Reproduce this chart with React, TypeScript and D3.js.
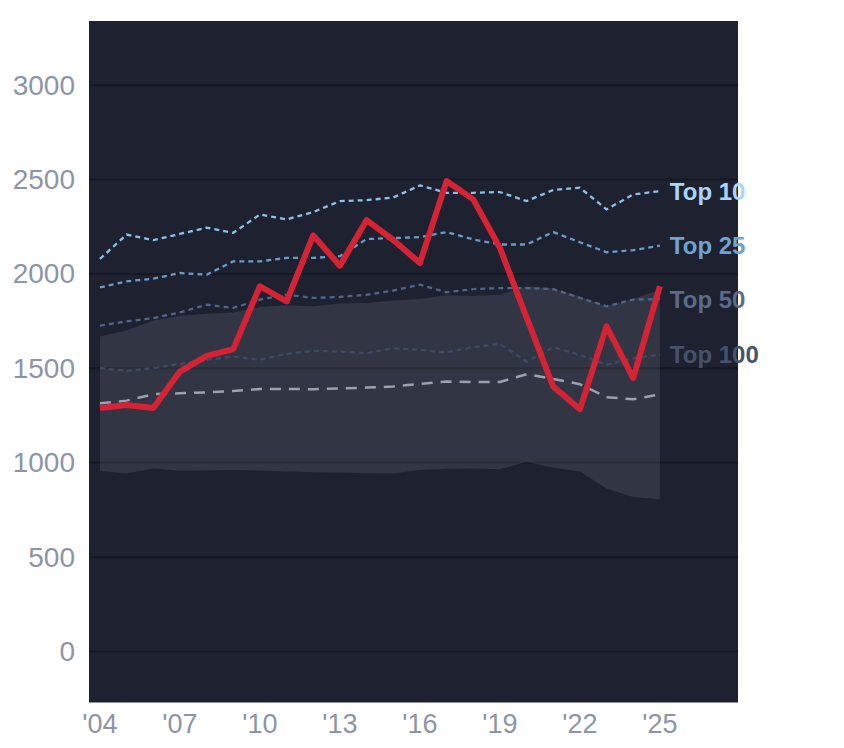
import React from 'react';
import * as d3 from 'd3';

// years 2004..2025
const years = d3.range(2004, 2026);

const mainSeries = [1290, 1306, 1290, 1483, 1566, 1602, 1935, 1855, 2204, 2044, 2285, 2180, 2058, 2492, 2395, 2138, 1770, 1404, 1283, 1722, 1448, 1935];
const top10 = [2080, 2209, 2179, 2212, 2245, 2218, 2315, 2289, 2328, 2386, 2391, 2405, 2469, 2430, 2430, 2434, 2386, 2445, 2457, 2342, 2421, 2439];
const top25 = [1929, 1961, 1975, 2005, 1996, 2067, 2067, 2085, 2085, 2094, 2185, 2190, 2195, 2222, 2183, 2156, 2156, 2222, 2168, 2115, 2126, 2150];
const top50 = [1726, 1749, 1766, 1796, 1837, 1820, 1864, 1890, 1873, 1878, 1890, 1912, 1943, 1903, 1920, 1925, 1925, 1920, 1873, 1829, 1864, 1867];
const top100 = [1501, 1487, 1501, 1524, 1545, 1563, 1545, 1577, 1593, 1589, 1580, 1607, 1598, 1584, 1612, 1630, 1536, 1612, 1572, 1519, 1554, 1572];
const median = [1315, 1329, 1363, 1368, 1373, 1380, 1391, 1391, 1389, 1394, 1398, 1404, 1418, 1430, 1428, 1428, 1469, 1444, 1416, 1347, 1336, 1362];
const bandHigh = [1669, 1701, 1754, 1779, 1789, 1796, 1825, 1834, 1829, 1843, 1846, 1860, 1867, 1887, 1885, 1890, 1935, 1925, 1881, 1829, 1867, 1917];
const bandLow = [956, 943, 970, 957, 959, 961, 959, 954, 950, 948, 945, 943, 961, 968, 970, 966, 1004, 973, 954, 863, 819, 807];

const yTicks = [0, 500, 1000, 1500, 2000, 2500, 3000];
const xTicks = [2004, 2007, 2010, 2013, 2016, 2019, 2022, 2025];

const tiers = [
  { name: 'Top 10', values: top10, line: '#8cc2ea', label: '#a8d6fc' },
  { name: 'Top 25', values: top25, line: '#6a9bc8', label: '#70a3d2' },
  { name: 'Top 50', values: top50, line: '#50648a', label: '#5b6b8a' },
  { name: 'Top 100', values: top100, line: '#3d4a66', label: '#46526d' },
];

const W = 844;
const H = 748;
const plot = { left: 89, right: 738, top: 21, bottom: 702.5 };

const App = () => {
  const x = d3.scaleLinear().domain([2003.59, 2027.93]).range([plot.left, plot.right]);
  const y = d3.scaleLinear().domain([-270, 3340]).range([plot.bottom, plot.top]);

  const line = d3.line<number>()
    .x((_, i) => x(years[i]))
    .y(d => y(d));

  const band = d3.area<number>()
    .x((_, i) => x(years[i]))
    .y0((_, i) => y(bandLow[i]))
    .y1(d => y(d));

  const font = '"Liberation Sans", Arial, sans-serif';
  const last = years.length - 1;

  return (
    <svg width={W} height={H} style={{ position: 'absolute', left: 0, top: 0 }}>
      <rect x={0} y={0} width={W} height={H} fill="#ffffff" />
      <rect x={plot.left} y={plot.top} width={plot.right - plot.left} height={plot.bottom - plot.top} fill="#1d2130" />

      {yTicks.map(t => (
        <line key={t} x1={plot.left} x2={plot.right} y1={y(t)} y2={y(t)} stroke="#161923" strokeWidth={2} />
      ))}

      <path d={band(bandHigh) ?? ''} fill="#ffffff" fillOpacity={0.095} />

      <path d={line(median) ?? ''} fill="none" stroke="#9ba1ad" strokeWidth={2.5} strokeDasharray="11,8" />

      {tiers.slice().reverse().map(t => (
        <path key={t.name} d={line(t.values) ?? ''} fill="none" stroke={t.line} strokeWidth={2.3} strokeDasharray="5,4" />
      ))}

      <path d={line(mainSeries) ?? ''} fill="none" stroke="#d32335" strokeWidth={6} strokeLinejoin="round" />

      {tiers.map(t => (
        <text key={t.name} x={x(years[last]) + 10} y={y(t.values[last])} dominantBaseline="central"
          fontFamily={font} fontWeight="bold" fontSize={24} fill={t.label}>
          {t.name}
        </text>
      ))}

      {yTicks.map(t => (
        <text key={t} x={plot.left - 14} y={y(t)} textAnchor="end" dominantBaseline="central"
          fontFamily={font} fontSize={28} fill="#8c95a6">
          {t}
        </text>
      ))}

      {xTicks.map(t => (
        <text key={t} x={x(t)} y={733} textAnchor="middle" fontFamily={font} fontSize={27} fill="#8c95a6">
          {"'" + String(t).slice(2)}
        </text>
      ))}
    </svg>
  );
};

export default App;
